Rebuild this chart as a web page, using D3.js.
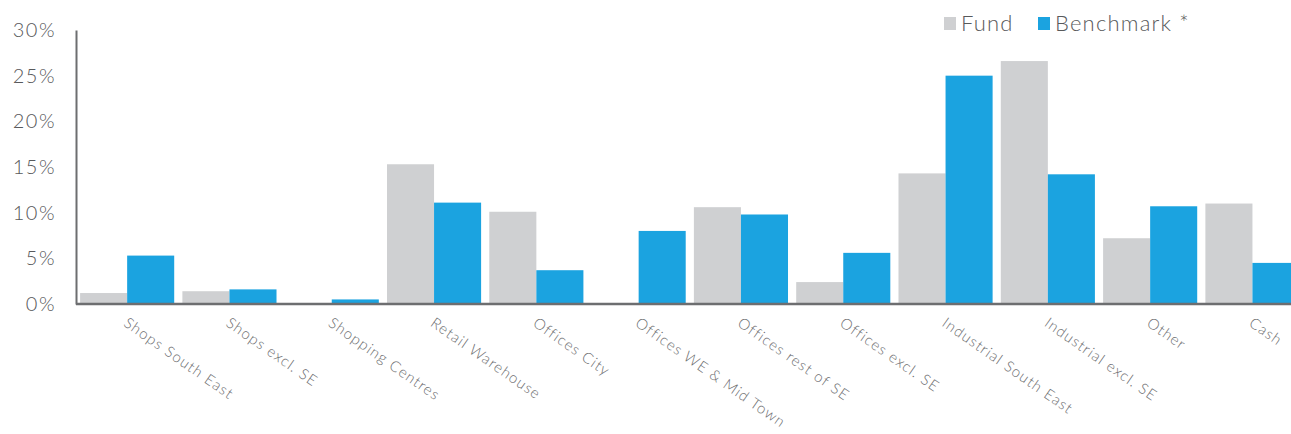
<!DOCTYPE html>
<html lang="en">
<head>
    <meta charset="UTF-8">
    <script src="https://d3js.org/d3.v7.min.js"></script>
    <style>
        body { margin: 0; background: #fff; }
        text {
            font-family: Lato, "Open Sans", sans-serif;
            font-weight: 300;
        }
    </style>
</head>
<body>
    <svg id="chart" width="1291" height="434"></svg>

    <script>
        const categories = ["Shops South East", "Shops excl. SE", "Shopping Centres", "Retail Warehouse",
            "Offices City", "Offices WE & Mid Town", "Offices rest of SE", "Offices excl. SE",
            "Industrial South East", "Industrial excl. SE", "Other", "Cash"];
        const fund = [1.2, 1.4, 0, 15.3, 10.1, 0, 10.6, 2.4, 14.3, 26.6, 7.2, 11.0];
        const benchmark = [5.3, 1.6, 0.5, 11.1, 3.7, 8.0, 9.8, 5.6, 25.0, 14.2, 10.7, 4.5];
        const yTicks = [0, 5, 10, 15, 20, 25, 30];
        const seriesNames = ["Fund", "Benchmark *"];
        const colors = ["#cfd0d2", "#1ba3e0"];

        const width = 1291, height = 434;
        const margin = { top: 30, left: 76, bottom: 130 };
        const plotRight = 1303.6;
        const svg = d3.select("#chart");

        const x = d3.scaleBand().domain(categories).range([margin.left, plotRight])
            .paddingInner(0.08).paddingOuter(0.04);
        const xs = d3.scaleBand().domain(seriesNames).range([0, x.bandwidth()]);
        const y = d3.scaleLinear().domain([0, 30]).range([304, margin.top]);

        const rows = categories.map((c, i) => ({ cat: c, vals: [fund[i], benchmark[i]] }));

        const groups = svg.append("g").selectAll("g")
            .data(rows).enter().append("g")
            .attr("transform", d => `translate(${x(d.cat)},0)`);

        groups.selectAll("rect")
            .data(d => d.vals.map((v, j) => ({ v, j })))
            .enter().append("rect")
            .attr("x", d => xs(seriesNames[d.j]))
            .attr("width", xs.bandwidth())
            .attr("y", d => y(d.v))
            .attr("height", d => y(0) - y(d.v))
            .attr("fill", d => colors[d.j]);

        // y axis
        const yAxis = svg.append("g")
            .attr("transform", `translate(${margin.left},0)`)
            .call(d3.axisLeft(y).tickValues(yTicks).tickSize(0).tickPadding(20).tickFormat(d => d + "%"));
        yAxis.select(".domain").attr("stroke", "#6d6e70").attr("stroke-width", 2);
        yAxis.selectAll("text").style("font-size", "20px").attr("fill", "#58595b")
            .style("font-family", "Lato, sans-serif").style("letter-spacing", "1.5px");

        // x axis
        const xAxis = svg.append("g")
            .attr("transform", `translate(0,${y(0)})`)
            .call(d3.axisBottom(x).tickSize(0).tickPadding(0));
        xAxis.select(".domain").attr("d", `M${margin.left},0H${width}`)
            .attr("stroke", "#6d6e70").attr("stroke-width", 2.5);
        xAxis.selectAll("text")
            .style("font-size", "15px")
            .style("font-family", "Lato, sans-serif")
            .style("letter-spacing", "1.1px")
            .attr("fill", "#6d6e70")
            .attr("text-anchor", "start")
            .attr("x", 2).attr("y", 12).attr("dy", "0.75em")
            .attr("transform", "rotate(35, 2, 12)");

        // legend
        const legendX = [944, 1038];
        seriesNames.forEach((name, i) => {
            svg.append("rect").attr("x", legendX[i]).attr("y", 17)
                .attr("width", 12).attr("height", 13).attr("fill", colors[i]);
            svg.append("text").attr("x", legendX[i] + 17).attr("y", 31)
                .style("font-size", "22px").style("letter-spacing", "1.2px")
                .attr("fill", "#58595b").text(name);
        });
    </script>
</body>
</html>
